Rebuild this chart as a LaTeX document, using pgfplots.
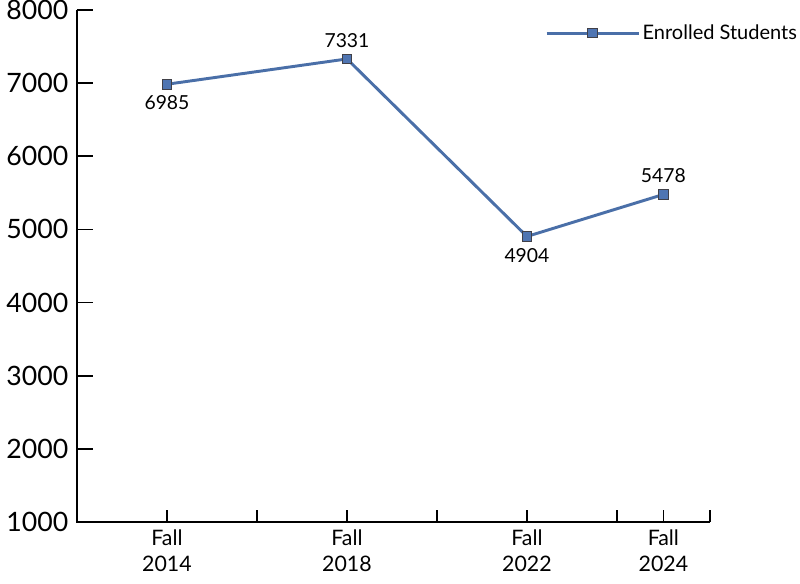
\documentclass[border=0pt]{standalone}
\usepackage{pgfplots}
\pgfplotsset{compat=1.18}
\usepackage{fontspec}
\setmainfont{Lato}
\definecolor{lineblue}{RGB}{74,111,168}
\definecolor{markblue}{RGB}{79,117,178}
\definecolor{markedge}{RGB}{64,64,72}
\begin{document}
\begin{tikzpicture}
\begin{axis}[
  scale only axis,
  width=474.75pt, height=384pt,
  xmin=0, xmax=3.517,
  ymin=1000, ymax=8000,
  axis line style={draw=none},
  xtick pos=bottom, ytick pos=left,
  xtick align=inside, ytick align=inside,
  ytick={1000,2000,...,8000},
  ytick style={draw=none},
  ymajorgrids,
  major grid style={line width=1.2pt, black, dash pattern=on 12pt off 900pt},
  xtick={1,2,3,3.517},
  xticklabels={},
  xtick style={line width=1.2pt, black, /pgfplots/major tick length=9pt},
  extra x ticks={0.5,1.5,2.5,3.258},
  extra x tick labels={Fall\\2014,Fall\\2018,Fall\\2022,Fall\\2024},
  extra x tick style={major tick length=0pt, grid=none, xticklabel style={align=center, font=\fontsize{16}{19.5}\selectfont, yshift=-2pt}},
  yticklabel style={font=\fontsize{20}{22}\selectfont, xshift=-3pt},
  scaled y ticks=false,
  /pgf/number format/1000 sep={},
  /pgf/number format/assume math mode=true,
  clip=false,
  legend style={draw=none, fill=none, at={(1.142,0.955)}, anchor=east, font=\fontsize{15}{17}\selectfont, inner sep=0pt},
  legend cell align=left,
  legend image code/.code={\draw[#1,mark repeat=2,mark phase=2] plot coordinates {(0pt,0pt) (34.5pt,0pt) (69pt,0pt)};},
]
\draw[line width=1.2pt, black] (rel axis cs:0,1) -- (rel axis cs:0,0) -- (rel axis cs:1,0);
\addplot[color=lineblue, line width=2.2pt, mark=square*, mark size=3.6pt,
  mark options={fill=markblue, draw=markedge, line width=0.8pt},
  nodes near coords, point meta=explicit,
  visualization depends on={\thisrow{pos} \as \mypos},
  every node near coord/.style={anchor=center, yshift=\mypos*14pt, font=\fontsize{14.5}{16}\selectfont, text=black},
] table[x=x, y=y, meta=y] {
x y pos
0.5 6985 -1
1.5 7331 1
2.5 4904 -1
3.258 5478 1
};
\addlegendentry{Enrolled Students}
\end{axis}
\pgfresetboundingbox
\path[use as bounding box] (-57.75pt,-45.75pt) rectangle (542.25pt,391.5pt);
\end{tikzpicture}
\end{document}
